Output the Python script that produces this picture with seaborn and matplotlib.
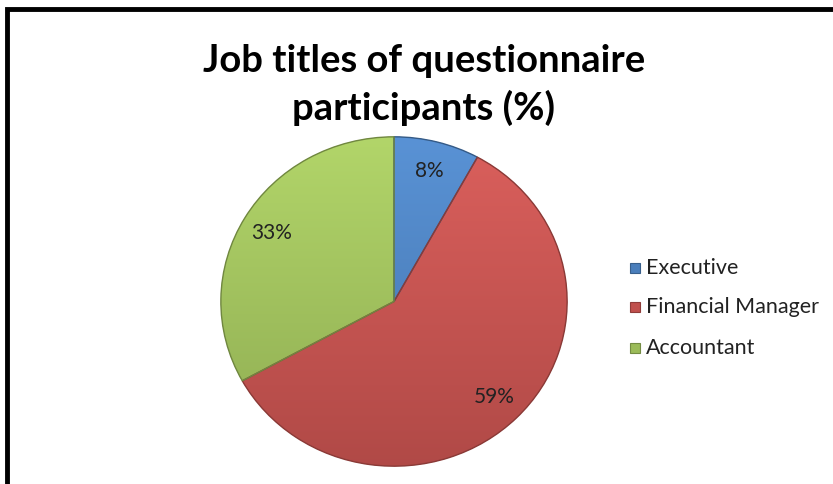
import numpy as np
import matplotlib
matplotlib.use("Agg")
import matplotlib.pyplot as plt
import matplotlib.colors as mcolors
from matplotlib.patches import Rectangle, Wedge
import seaborn as sns

# Data
categories = ["Executive", "Financial Manager", "Accountant"]
shares = [8, 59, 33]
slice_labels = ["8%", "59%", "33%"]

sns.set_theme(style="white")
plt.rcParams["font.family"] = ["Lato", "DejaVu Sans"]

palette = sns.color_palette(["#4a7ebb", "#c0504d", "#9bbb59"])

W, H = 833, 484
fig = plt.figure(figsize=(W / 100, H / 100), dpi=100)
fig.patch.set_facecolor("white")

# Outer frame (left and top edges)
frame_ax = fig.add_axes([0, 0, 1, 1])
frame_ax.set_xlim(0, W)
frame_ax.set_ylim(H, 0)
frame_ax.axis("off")
frame_ax.plot([7, 7, W + 5], [H + 5, 9, 9], color="black", lw=3.5,
              solid_joinstyle="miter", clip_on=False)

# Pie axes
cx0, cx1, cy0, cy1 = 220, 568, 136, 467
ax = fig.add_axes([cx0 / W, 1 - cy1 / H, (cx1 - cx0) / W, (cy1 - cy0) / H])
wedges, _texts, autotexts = ax.pie(
    shares,
    colors=palette,
    startangle=90,
    counterclock=False,
    autopct=lambda p: f"{p:.0f}%",
    pctdistance=0.82,
    wedgeprops=dict(linewidth=0),
    textprops=dict(fontsize=15, color="#222222"),
)
ax.set_aspect("auto")
ax.set_xlim(-1.005, 1.005)
ax.set_ylim(-1.005, 1.005)

# Soft vertical shading inside each slice, with a darker rim
yy = np.linspace(1, 0, 256).reshape(-1, 1)
for w, c in zip(wedges, palette):
    rgb = np.array(mcolors.to_rgb(c))
    light = np.clip(rgb * 1.1 + 0.03, 0, 1)
    dark = rgb * 0.92
    grad = light[None, None, :] * yy[..., None] + dark[None, None, :] * (1 - yy[..., None])
    grad = np.repeat(grad, 2, axis=1)
    im = ax.imshow(grad, extent=[-1, 1, -1, 1], aspect="auto", zorder=w.get_zorder() + 0.1)
    im.set_clip_path(w)
    rim = Wedge(w.center, w.r, w.theta1, w.theta2, fill=False,
                edgecolor=tuple(rgb * 0.72), lw=1.0, zorder=w.get_zorder() + 0.2)
    ax.add_patch(rim)
for t, s in zip(autotexts, slice_labels):
    t.set_text(s)
    t.set_zorder(10)

# Title
fig.text(424 / W, 1 - 85 / H, "Job titles of questionnaire\nparticipants (%)",
         ha="center", va="center", fontsize=27.5, fontweight="bold",
         linespacing=1.36, color="black")

# Legend
leg_y = [268, 307, 348]
for name, c, y in zip(categories, palette, leg_y):
    frame_ax.add_patch(Rectangle((630, y - 5), 10, 10, facecolor=c,
                                 edgecolor=tuple(np.array(c) * 0.75), lw=0.8))
    frame_ax.text(646, y, name, ha="left", va="center", fontsize=15.5, color="#222222")

fig.savefig("out.png", dpi=100, facecolor="white")
